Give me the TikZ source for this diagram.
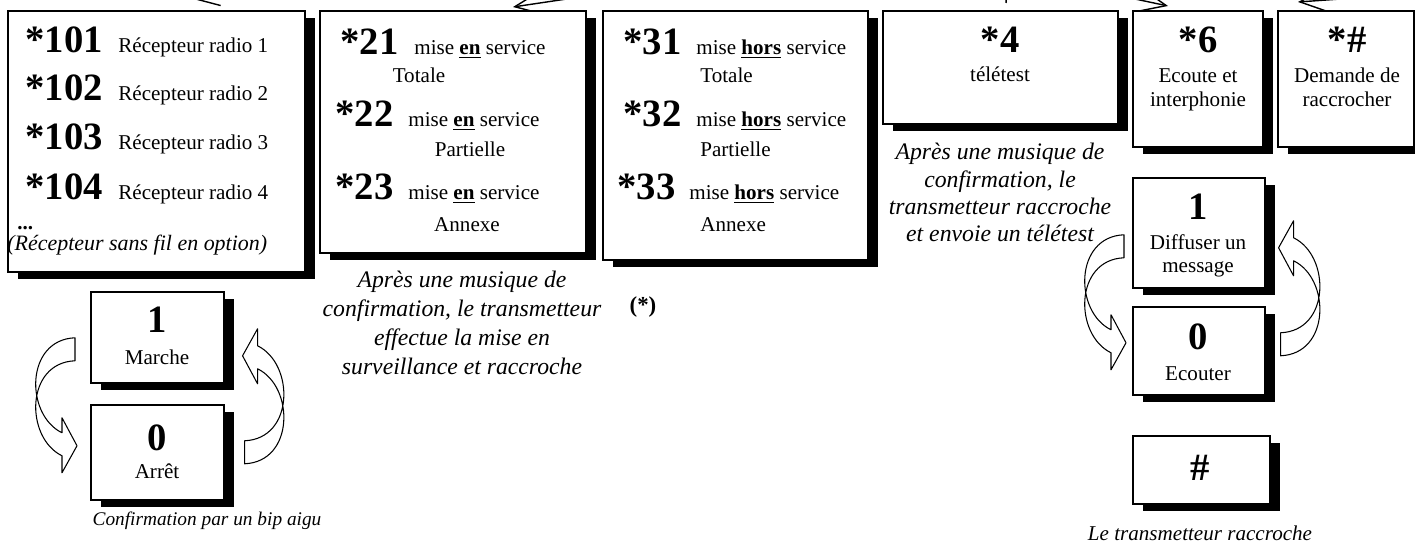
\documentclass[tikz,border=0pt]{standalone}
\usepackage{fontspec}
\setmainfont{Liberation Serif}
\usetikzlibrary{positioning,shadows,calc,arrows.meta,backgrounds}

\newcommand\ulbold[1]{\textbf{\underline{#1}}}

\tikzset{
  panel/.style={draw, fill=white, line width=0.9pt, inner sep=0pt, anchor=north west,
    drop shadow={shadow xshift=0.2cm, shadow yshift=-0.15cm, fill=black, opacity=1}},
  code/.style={font=\fontsize{22}{24}\selectfont\bfseries, inner sep=0pt},
  words/.style={font=\fontsize{12}{14}\selectfont, inner sep=0pt},
  remark/.style={font=\fontsize{13.5}{15.5}\selectfont\itshape, align=center, inner sep=0pt},
  feed/.style={line width=0.8pt, -{Straight Barb[length=14pt,width=12pt]}},
  pics/turnarrow/.style={code={
    \draw[line width=0.6pt, line join=round]
      (-15,-57) .. controls (-65,-55) and (-65,20) .. (-28,38)
      -- (-28,23) -- (-13,51) -- (-28,78) -- (-28,61)
      .. controls (-65,43) and (-65,-32) .. (-15,-34) -- cycle;
  }}
}

\begin{document}
\begin{tikzpicture}[x=0.02cm, y=-0.02cm]
    \useasboundingbox (0,0) rectangle (1415,543);

    % incoming arrows, cut by the top edge
    \coordinate (from1) at (589,-60);
    \coordinate (from2) at (909,-52);
    \coordinate (from3) at (1010,-60);
    \coordinate (from4) at (777,-77);
    \coordinate (from5) at (1697,-26);

    % boxes
    \node[panel, minimum width=5.94cm, minimum height=5.22cm] (radios) at (7,10) {};
    \node[panel, minimum width=5.32cm, minimum height=4.84cm] (armbox) at (319,10) {};
    \node[panel, minimum width=5.30cm, minimum height=4.98cm] (disarmbox) at (602,10) {};
    \node[panel, minimum width=4.70cm, minimum height=2.26cm] (testbox) at (882,10) {};
    \node[panel, minimum width=2.60cm, minimum height=2.72cm] (listenbox) at (1132,10) {};
    \node[panel, minimum width=2.72cm, minimum height=2.72cm] (hangbox) at (1277,10) {};
    \node[panel, minimum width=2.64cm, minimum height=2.20cm] (sayon) at (1132,177) {};
    \node[panel, minimum width=2.64cm, minimum height=1.76cm] (hearon) at (1132,306) {};
    \node[panel, minimum width=2.74cm, minimum height=1.36cm] (hashbox) at (1132,435) {};
    \node[panel, minimum width=2.66cm, minimum height=1.82cm] (relayon) at (90,291) {};
    \node[panel, minimum width=2.66cm, minimum height=1.90cm] (relayoff) at (90,404) {};

    \begin{scope}[on background layer]
    \draw[feed] (from1) -- ($(radios.north west)+(186,-11)$);
    \draw[feed] (from2) -- ($(armbox.north west)+(194,-3)$);
    \draw[line width=0.8pt] (from3) -- ($(testbox.north west)+(124,-7)$);
    \draw[feed] (from4) -- ($(listenbox.north west)+(36,-4)$);
    \draw[feed] (from5) -- ($(hangbox.north west)+(21,-8)$);
    \end{scope}

    % radio receivers
    \foreach \n/\y in {1/53,2/101,3/150,4/200} {
        \node[code, anchor=base west] (r10\n) at (25,\y) {*10\n};
        \node[words, anchor=base west] (t10\n) at (118,\y) {Récepteur radio \n};
    }
    \node[words, anchor=base west] (more) at (17,230) {\textbf{...}};
    \node[words, font=\fontsize{12.5}{14}\selectfont\itshape, anchor=base west] (option) at (7,251) {(Récepteur sans fil en option)};

    % mise en service
    \node[code, anchor=base west] (k21) at (340,55) {*21};
    \node[words, anchor=base west] (m21) at (414,55) {mise \ulbold{en} service};
    \node[words, anchor=base] (z21) at (419,83) {Totale};
    \node[code, anchor=base west] (k22) at (335,127) {*22};
    \node[words, anchor=base west] (m22) at (408,127) {mise \ulbold{en} service};
    \node[words, anchor=base] (z22) at (470,157) {Partielle};
    \node[code, anchor=base west] (k23) at (335,200) {*23};
    \node[words, anchor=base west] (m23) at (408,200) {mise \ulbold{en} service};
    \node[words, anchor=base] (z23) at (467,232) {Annexe};
    \node[remark, font=\fontsize{13.5}{16.4}\selectfont\itshape, anchor=north] (note2) at (462,271)
        {Après une musique de\\confirmation, le transmetteur\\effectue la mise en\\surveillance et raccroche};

    % mise hors service
    \node[code, anchor=base west] (k31) at (623,55) {*31};
    \node[words, anchor=base west] (m31) at (696,55) {mise \ulbold{hors} service};
    \node[words, anchor=base west] (z31) at (700,83) {Totale};
    \node[code, anchor=base west] (k32) at (623,127) {*32};
    \node[words, anchor=base west] (m32) at (696,127) {mise \ulbold{hors} service};
    \node[words, anchor=base west] (z32) at (700,157) {Partielle};
    \node[code, anchor=base west] (k33) at (617,200) {*33};
    \node[words, anchor=base west] (m33) at (689,200) {mise \ulbold{hors} service};
    \node[words, anchor=base west] (z33) at (700,232) {Annexe};
    \node[font=\fontsize{13}{15}\selectfont\bfseries, inner sep=0pt] (star) at (643,307) {(*)};

    % teletest
    \node[code, anchor=base] (k4) at (1000,53) {*4};
    \node[words, anchor=base] (w4) at (1000,82) {télétest};
    \node[remark, anchor=north] (note4) at (1000,143)
        {Après une musique de\\confirmation, le\\transmetteur raccroche\\et envoie un télétest};

    % ecoute, raccrocher
    \node[code, anchor=base] (k6) at (1198,53) {*6};
    \node[words, anchor=base] (w6a) at (1198,83) {Ecoute et};
    \node[words, anchor=base] (w6b) at (1198,107) {interphonie};
    \node[code, anchor=base] (kh) at (1347,53) {*\#};
    \node[words, anchor=base] (wha) at (1347,83) {Demande de};
    \node[words, anchor=base] (whb) at (1347,107) {raccrocher};

    \node[code, anchor=base] (k1s) at (1198,220) {1};
    \node[words, anchor=base] (w1sa) at (1198,250) {Diffuser un};
    \node[words, anchor=base] (w1sb) at (1198,273) {message};
    \node[code, anchor=base] (k0h) at (1198,350) {0};
    \node[words, anchor=base] (w0h) at (1198,380) {Ecouter};
    \node[code, anchor=base] (kend) at (1200,480) {\#};
    \node[words, font=\fontsize{12}{14}\selectfont\itshape, anchor=base] (hangup) at (1200,540) {Le transmetteur raccroche};

    % marche / arret
    \node[code, anchor=base] (k1m) at (157,333) {1};
    \node[words, anchor=base] (w1m) at (157,365) {Marche};
    \node[code, anchor=base] (k0m) at (157,450) {0};
    \node[words, anchor=base] (w0m) at (157,478) {Arrêt};
    \node[words, font=\fontsize{11}{13}\selectfont\itshape, anchor=base] (beep) at (207,525) {Confirmation par un bip aigu};

    % toggle arrows
    \coordinate (lmid) at ($(relayon.west)!0.5!(relayoff.west)$);
    \coordinate (rmid) at ($(relayon.east)!0.5!(relayoff.east)$);
    \pic at (lmid) {turnarrow};
    \pic[rotate=180] at ($(rmid)+(5,12)$) {turnarrow};
    \coordinate (slmid) at ($(sayon.west)!0.5!(hearon.west)$);
    \coordinate (srmid) at ($(sayon.east)!0.5!(hearon.east)$);
    \pic at ($(slmid)+(7,0)$) {turnarrow};
    \pic[rotate=180] at ($(srmid)+(0,7)$) {turnarrow};
\end{tikzpicture}
\end{document}
